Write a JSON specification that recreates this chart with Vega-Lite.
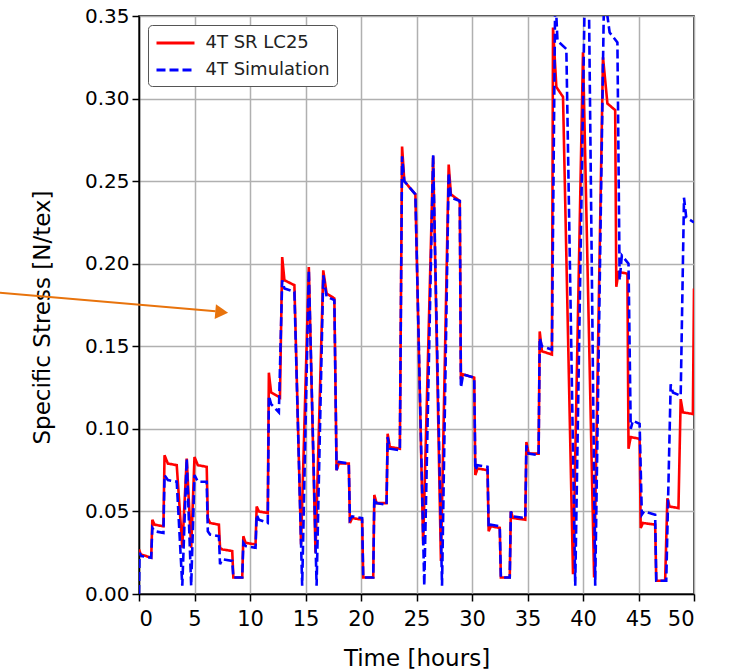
{
  "$schema": "https://vega.github.io/schema/vega-lite/v6.json",
  "width": 555,
  "height": 578,
  "autosize": "none",
  "padding": {"left": 139, "top": 16, "right": 38, "bottom": 78},
  "background": "white",
  "config": {
    "font": "DejaVu Sans",
    "view": {"stroke": "#000000", "strokeWidth": 1.5},
    "axis": {
      "grid": true,
      "gridColor": "#b0b0b0",
      "gridWidth": 1.5,
      "domainColor": "#000000",
      "domainWidth": 1.5,
      "tickColor": "#000000",
      "tickWidth": 1.5,
      "tickSize": 7,
      "labelFontSize": 20,
      "labelColor": "#000000",
      "labelPadding": 3,
      "titleFontSize": 23,
      "titleFontWeight": "normal",
      "titleColor": "#000000"
    },
    "legend": {
      "orient": "top-left",
      "offset": 9,
      "padding": 7,
      "strokeColor": "#555555",
      "cornerRadius": 4,
      "fillColor": "white",
      "labelFontSize": 18,
      "labelColor": "#222222",
      "symbolType": "M-2,0H2",
      "symbolSize": 361,
      "symbolOffset": 9.5,
      "symbolStrokeWidth": 3,
      "labelOffset": 19,
      "rowPadding": 7
    }
  },
  "datasets": {
    "series": [
      {"s":"4T SR LC25","t":0,"v":0.027},{"s":"4T SR LC25","t":0.15,"v":0.024},{"s":"4T SR LC25","t":1.1,"v":0.022},{"s":"4T SR LC25","t":1.2,"v":0.045},{"s":"4T SR LC25","t":1.4,"v":0.042},{"s":"4T SR LC25","t":2.2,"v":0.041},{"s":"4T SR LC25","t":2.3,"v":0.084},{"s":"4T SR LC25","t":2.6,"v":0.079},{"s":"4T SR LC25","t":3.4,"v":0.078},{"s":"4T SR LC25","t":3.9,"v":0.028},{"s":"4T SR LC25","t":4.3,"v":0.082},{"s":"4T SR LC25","t":4.7,"v":0.028},{"s":"4T SR LC25","t":5.0,"v":0.083},{"s":"4T SR LC25","t":5.3,"v":0.078},{"s":"4T SR LC25","t":6.1,"v":0.077},{"s":"4T SR LC25","t":6.2,"v":0.046},{"s":"4T SR LC25","t":6.4,"v":0.043},{"s":"4T SR LC25","t":7.2,"v":0.042},{"s":"4T SR LC25","t":7.3,"v":0.028},{"s":"4T SR LC25","t":7.5,"v":0.027},{"s":"4T SR LC25","t":8.4,"v":0.026},{"s":"4T SR LC25","t":8.5,"v":0.010},{"s":"4T SR LC25","t":9.3,"v":0.010},{"s":"4T SR LC25","t":9.4,"v":0.035},{"s":"4T SR LC25","t":9.6,"v":0.031},{"s":"4T SR LC25","t":10.5,"v":0.030},{"s":"4T SR LC25","t":10.6,"v":0.053},{"s":"4T SR LC25","t":10.8,"v":0.050},{"s":"4T SR LC25","t":11.6,"v":0.049},{"s":"4T SR LC25","t":11.7,"v":0.134},{"s":"4T SR LC25","t":11.9,"v":0.122},{"s":"4T SR LC25","t":12.7,"v":0.119},{"s":"4T SR LC25","t":12.9,"v":0.204},{"s":"4T SR LC25","t":13.1,"v":0.190},{"s":"4T SR LC25","t":14.0,"v":0.187},{"s":"4T SR LC25","t":14.6,"v":0.030},{"s":"4T SR LC25","t":15.3,"v":0.198},{"s":"4T SR LC25","t":15.9,"v":0.025},{"s":"4T SR LC25","t":16.6,"v":0.196},{"s":"4T SR LC25","t":16.9,"v":0.182},{"s":"4T SR LC25","t":17.6,"v":0.179},{"s":"4T SR LC25","t":17.8,"v":0.075},{"s":"4T SR LC25","t":18.0,"v":0.079},{"s":"4T SR LC25","t":18.9,"v":0.079},{"s":"4T SR LC25","t":19.0,"v":0.043},{"s":"4T SR LC25","t":19.2,"v":0.046},{"s":"4T SR LC25","t":20.1,"v":0.045},{"s":"4T SR LC25","t":20.2,"v":0.010},{"s":"4T SR LC25","t":21.1,"v":0.010},{"s":"4T SR LC25","t":21.2,"v":0.060},{"s":"4T SR LC25","t":21.4,"v":0.055},{"s":"4T SR LC25","t":22.3,"v":0.055},{"s":"4T SR LC25","t":22.4,"v":0.097},{"s":"4T SR LC25","t":22.6,"v":0.089},{"s":"4T SR LC25","t":23.5,"v":0.088},{"s":"4T SR LC25","t":23.7,"v":0.271},{"s":"4T SR LC25","t":23.9,"v":0.250},{"s":"4T SR LC25","t":24.9,"v":0.242},{"s":"4T SR LC25","t":25.6,"v":0.030},{"s":"4T SR LC25","t":26.5,"v":0.265},{"s":"4T SR LC25","t":27.2,"v":0.020},{"s":"4T SR LC25","t":27.9,"v":0.260},{"s":"4T SR LC25","t":28.1,"v":0.242},{"s":"4T SR LC25","t":28.9,"v":0.238},{"s":"4T SR LC25","t":29.0,"v":0.130},{"s":"4T SR LC25","t":29.2,"v":0.133},{"s":"4T SR LC25","t":30.2,"v":0.131},{"s":"4T SR LC25","t":30.3,"v":0.072},{"s":"4T SR LC25","t":30.5,"v":0.076},{"s":"4T SR LC25","t":31.4,"v":0.075},{"s":"4T SR LC25","t":31.5,"v":0.038},{"s":"4T SR LC25","t":31.7,"v":0.041},{"s":"4T SR LC25","t":32.5,"v":0.040},{"s":"4T SR LC25","t":32.6,"v":0.010},{"s":"4T SR LC25","t":33.4,"v":0.010},{"s":"4T SR LC25","t":33.5,"v":0.050},{"s":"4T SR LC25","t":33.7,"v":0.046},{"s":"4T SR LC25","t":34.8,"v":0.045},{"s":"4T SR LC25","t":34.9,"v":0.092},{"s":"4T SR LC25","t":35.1,"v":0.085},{"s":"4T SR LC25","t":36.0,"v":0.085},{"s":"4T SR LC25","t":36.1,"v":0.159},{"s":"4T SR LC25","t":36.3,"v":0.147},{"s":"4T SR LC25","t":37.2,"v":0.145},{"s":"4T SR LC25","t":37.3,"v":0.343},{"s":"4T SR LC25","t":37.6,"v":0.307},{"s":"4T SR LC25","t":38.2,"v":0.301},{"s":"4T SR LC25","t":39.1,"v":0.012},{"s":"4T SR LC25","t":40.0,"v":0.328},{"s":"4T SR LC25","t":41.0,"v":0.010},{"s":"4T SR LC25","t":41.8,"v":0.325},{"s":"4T SR LC25","t":42.2,"v":0.297},{"s":"4T SR LC25","t":42.9,"v":0.293},{"s":"4T SR LC25","t":43.0,"v":0.186},{"s":"4T SR LC25","t":43.2,"v":0.195},{"s":"4T SR LC25","t":44.0,"v":0.194},{"s":"4T SR LC25","t":44.1,"v":0.088},{"s":"4T SR LC25","t":44.3,"v":0.095},{"s":"4T SR LC25","t":45.1,"v":0.094},{"s":"4T SR LC25","t":45.2,"v":0.040},{"s":"4T SR LC25","t":45.4,"v":0.043},{"s":"4T SR LC25","t":46.5,"v":0.042},{"s":"4T SR LC25","t":46.6,"v":0.008},{"s":"4T SR LC25","t":47.4,"v":0.008},{"s":"4T SR LC25","t":47.6,"v":0.058},{"s":"4T SR LC25","t":47.8,"v":0.053},{"s":"4T SR LC25","t":48.6,"v":0.052},{"s":"4T SR LC25","t":48.8,"v":0.118},{"s":"4T SR LC25","t":49.0,"v":0.110},{"s":"4T SR LC25","t":49.9,"v":0.109},{"s":"4T SR LC25","t":50.0,"v":0.185},
      {"s":"4T Simulation","t":0,"v":0.0},{"s":"4T Simulation","t":0.05,"v":0.025},{"s":"4T Simulation","t":0.2,"v":0.023},{"s":"4T Simulation","t":1.1,"v":0.022},{"s":"4T Simulation","t":1.2,"v":0.040},{"s":"4T Simulation","t":1.4,"v":0.038},{"s":"4T Simulation","t":2.2,"v":0.037},{"s":"4T Simulation","t":2.3,"v":0.072},{"s":"4T Simulation","t":2.6,"v":0.069},{"s":"4T Simulation","t":3.4,"v":0.068},{"s":"4T Simulation","t":3.9,"v":0.005},{"s":"4T Simulation","t":4.3,"v":0.082},{"s":"4T Simulation","t":4.7,"v":0.005},{"s":"4T Simulation","t":5.0,"v":0.072},{"s":"4T Simulation","t":5.3,"v":0.068},{"s":"4T Simulation","t":6.1,"v":0.068},{"s":"4T Simulation","t":6.2,"v":0.038},{"s":"4T Simulation","t":6.4,"v":0.036},{"s":"4T Simulation","t":7.2,"v":0.035},{"s":"4T Simulation","t":7.3,"v":0.018},{"s":"4T Simulation","t":7.5,"v":0.021},{"s":"4T Simulation","t":8.4,"v":0.020},{"s":"4T Simulation","t":8.5,"v":0.010},{"s":"4T Simulation","t":9.3,"v":0.010},{"s":"4T Simulation","t":9.4,"v":0.031},{"s":"4T Simulation","t":9.6,"v":0.029},{"s":"4T Simulation","t":10.5,"v":0.028},{"s":"4T Simulation","t":10.6,"v":0.048},{"s":"4T Simulation","t":10.8,"v":0.045},{"s":"4T Simulation","t":11.6,"v":0.043},{"s":"4T Simulation","t":11.7,"v":0.120},{"s":"4T Simulation","t":11.9,"v":0.115},{"s":"4T Simulation","t":12.6,"v":0.110},{"s":"4T Simulation","t":12.9,"v":0.190},{"s":"4T Simulation","t":13.1,"v":0.185},{"s":"4T Simulation","t":14.0,"v":0.183},{"s":"4T Simulation","t":14.7,"v":0.005},{"s":"4T Simulation","t":15.3,"v":0.196},{"s":"4T Simulation","t":16.0,"v":0.005},{"s":"4T Simulation","t":16.6,"v":0.193},{"s":"4T Simulation","t":16.9,"v":0.180},{"s":"4T Simulation","t":17.6,"v":0.178},{"s":"4T Simulation","t":17.8,"v":0.075},{"s":"4T Simulation","t":18.0,"v":0.080},{"s":"4T Simulation","t":18.9,"v":0.079},{"s":"4T Simulation","t":19.0,"v":0.045},{"s":"4T Simulation","t":19.2,"v":0.047},{"s":"4T Simulation","t":20.1,"v":0.046},{"s":"4T Simulation","t":20.2,"v":0.010},{"s":"4T Simulation","t":21.1,"v":0.010},{"s":"4T Simulation","t":21.2,"v":0.058},{"s":"4T Simulation","t":21.4,"v":0.055},{"s":"4T Simulation","t":22.3,"v":0.054},{"s":"4T Simulation","t":22.4,"v":0.095},{"s":"4T Simulation","t":22.6,"v":0.088},{"s":"4T Simulation","t":23.5,"v":0.087},{"s":"4T Simulation","t":23.7,"v":0.265},{"s":"4T Simulation","t":23.9,"v":0.250},{"s":"4T Simulation","t":24.9,"v":0.242},{"s":"4T Simulation","t":25.7,"v":0.005},{"s":"4T Simulation","t":26.5,"v":0.266},{"s":"4T Simulation","t":27.3,"v":0.005},{"s":"4T Simulation","t":27.9,"v":0.255},{"s":"4T Simulation","t":28.1,"v":0.240},{"s":"4T Simulation","t":28.9,"v":0.238},{"s":"4T Simulation","t":29.0,"v":0.125},{"s":"4T Simulation","t":29.2,"v":0.133},{"s":"4T Simulation","t":30.2,"v":0.131},{"s":"4T Simulation","t":30.3,"v":0.075},{"s":"4T Simulation","t":30.5,"v":0.078},{"s":"4T Simulation","t":31.4,"v":0.077},{"s":"4T Simulation","t":31.5,"v":0.040},{"s":"4T Simulation","t":31.7,"v":0.042},{"s":"4T Simulation","t":32.5,"v":0.041},{"s":"4T Simulation","t":32.6,"v":0.010},{"s":"4T Simulation","t":33.4,"v":0.010},{"s":"4T Simulation","t":33.5,"v":0.050},{"s":"4T Simulation","t":33.7,"v":0.047},{"s":"4T Simulation","t":34.8,"v":0.046},{"s":"4T Simulation","t":34.9,"v":0.090},{"s":"4T Simulation","t":35.1,"v":0.085},{"s":"4T Simulation","t":36.0,"v":0.084},{"s":"4T Simulation","t":36.1,"v":0.155},{"s":"4T Simulation","t":36.3,"v":0.150},{"s":"4T Simulation","t":37.2,"v":0.148},{"s":"4T Simulation","t":37.5,"v":0.365},{"s":"4T Simulation","t":37.7,"v":0.335},{"s":"4T Simulation","t":38.5,"v":0.330},{"s":"4T Simulation","t":39.3,"v":0.005},{"s":"4T Simulation","t":40.2,"v":0.38},{"s":"4T Simulation","t":40.5,"v":0.38},{"s":"4T Simulation","t":41.1,"v":0.005},{"s":"4T Simulation","t":41.9,"v":0.365},{"s":"4T Simulation","t":42.4,"v":0.340},{"s":"4T Simulation","t":43.1,"v":0.334},{"s":"4T Simulation","t":43.3,"v":0.190},{"s":"4T Simulation","t":43.5,"v":0.205},{"s":"4T Simulation","t":44.1,"v":0.200},{"s":"4T Simulation","t":44.3,"v":0.100},{"s":"4T Simulation","t":44.5,"v":0.105},{"s":"4T Simulation","t":45.1,"v":0.103},{"s":"4T Simulation","t":45.3,"v":0.048},{"s":"4T Simulation","t":45.5,"v":0.050},{"s":"4T Simulation","t":46.5,"v":0.048},{"s":"4T Simulation","t":46.6,"v":0.008},{"s":"4T Simulation","t":47.5,"v":0.008},{"s":"4T Simulation","t":47.9,"v":0.127},{"s":"4T Simulation","t":48.1,"v":0.122},{"s":"4T Simulation","t":48.8,"v":0.120},{"s":"4T Simulation","t":49.1,"v":0.240},{"s":"4T Simulation","t":49.3,"v":0.228},{"s":"4T Simulation","t":50.0,"v":0.225}
    ],
    "arrow": [
      {"t": -12.6, "v": 0.1825},
      {"t": 6.9, "v": 0.1712}
    ],
    "head": [
      {"t": 7.45, "v": 0.1707}
    ]
  },
  "layer": [
    {
      "data": {"name": "series"},
      "mark": {"type": "line", "clip": true, "strokeWidth": 2.6},
      "encoding": {
        "x": {"field": "t", "type": "quantitative", "title": "Time [hours]",
              "scale": {"domain": [0, 50], "nice": false, "zero": false},
              "axis": {"values": [0,5,10,15,20,25,30,35,40,45,50], "labelPadding": 7, "labelFontSize": 21, "titlePadding": 18}},
        "y": {"field": "v", "type": "quantitative", "title": "Specific Stress [N/tex]",
              "scale": {"domain": [0, 0.35], "nice": false},
              "axis": {"values": [0,0.05,0.1,0.15,0.2,0.25,0.3,0.35], "format": ".2f", "titlePadding": 30, "titleY": 301}},
        "color": {"field": "s", "type": "nominal",
                  "scale": {"domain": ["4T SR LC25", "4T Simulation"], "range": ["#ff0000", "#0000ff"]},
                  "legend": {"title": null}},
        "strokeDash": {"field": "s", "type": "nominal",
                  "scale": {"domain": ["4T SR LC25", "4T Simulation"], "range": [[1, 0], [9, 4]]},
                  "legend": {"title": null}}
      }
    },
    {
      "data": {"name": "arrow"},
      "mark": {"type": "line", "clip": false, "color": "#e8730c", "strokeWidth": 2},
      "encoding": {
        "x": {"field": "t", "type": "quantitative", "title": "Time [hours]"},
        "y": {"field": "v", "type": "quantitative", "title": "Specific Stress [N/tex]"}
      }
    },
    {
      "data": {"name": "head"},
      "mark": {"type": "point", "shape": "triangle-right", "filled": true, "clip": false, "color": "#e8730c", "opacity": 1, "size": 220, "angle": 5},
      "encoding": {
        "x": {"field": "t", "type": "quantitative", "title": "Time [hours]"},
        "y": {"field": "v", "type": "quantitative", "title": "Specific Stress [N/tex]"}
      }
    }
  ]
}
